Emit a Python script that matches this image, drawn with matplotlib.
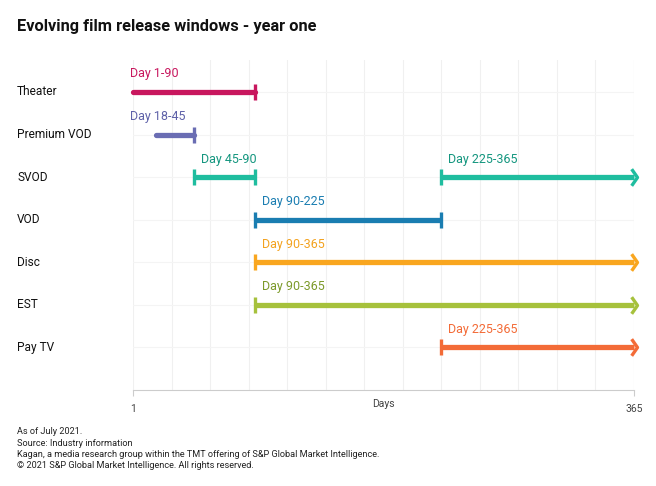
import matplotlib
matplotlib.use("Agg")
import matplotlib.pyplot as plt
from matplotlib.path import Path
from matplotlib.transforms import blended_transform_factory, offset_copy

plt.rcParams['font.family'] = ['Roboto', 'DejaVu Sans']

# Dados do gráfico
canais = ['Theater', 'Premium VOD', 'SVOD', 'SVOD', 'VOD', 'Disc', 'EST', 'Pay TV']
linha = [0, 1, 2, 2, 3, 4, 5, 6]
inicio = [1, 18, 45, 225, 90, 90, 90, 225]
fim = [90, 45, 90, 365, 225, 365, 365, 365]
rotulos = ['Day 1-90', 'Day 18-45', 'Day 45-90', 'Day 225-365', 'Day 90-225',
           'Day 90-365', 'Day 90-365', 'Day 225-365']
nomes_linhas = ['Theater', 'Premium VOD', 'SVOD', 'VOD', 'Disc', 'EST', 'Pay TV']

cores = ['#C8175E', '#6A6DB3', '#1FBD9F', '#1FBD9F', '#1A7DB1', '#F9A61F', '#A6C13C', '#F36B37']
cores_texto = ['#C8175E', '#5E61A8', '#14967F', '#14967F', '#1A7DB1', '#F3A21F', '#7C9A2A', '#F36B37']

fig = plt.figure(figsize=(6.56, 4.86), dpi=100)
ax = fig.add_axes([133 / 656, 96 / 486, 501 / 656, 330 / 486])

ax.set_xlim(1, 365)
ax.set_ylim(7, -0.75)

# grade
for d in range(1, 366, 28):
    ax.axvline(d, color='#F0F0F0', lw=0.8, zorder=0)
ax.axvline(365, color='#F0F0F0', lw=0.8, zorder=0)
for i in range(len(nomes_linhas)):
    ax.axhline(i, color='#F4F4F4', lw=0.8, zorder=0)

seta = Path([(-0.7, 1), (0, 0), (-0.7, -1)], [Path.MOVETO, Path.LINETO, Path.LINETO])

for i in range(len(canais)):
    y = linha[i]
    cor = cores[i]
    redondo = inicio[i] < 30
    ax.plot([inicio[i], fim[i]], [y, y], color=cor, lw=3.8,
            solid_capstyle='round' if redondo else 'butt', zorder=3, clip_on=False)
    if not redondo:
        ax.plot([inicio[i]], [y], marker='|', ms=11, mew=2.4, color=cor, zorder=4, clip_on=False)
    if fim[i] == 365:
        ax.plot([fim[i] + 2], [y], marker=seta, ms=12, mew=2.4, mfc='none', mec=cor,
                zorder=4, clip_on=False)
    else:
        ax.plot([fim[i]], [y], marker='|', ms=11, mew=2.4, color=cor, zorder=4, clip_on=False)
    # rótulo
    if redondo:
        tr = offset_copy(ax.transData, fig=fig, x=-2, y=13, units='points')
        x_txt = 1
    else:
        tr = offset_copy(ax.transData, fig=fig, x=5, y=13, units='points')
        x_txt = inicio[i]
    ax.text(x_txt, y, rotulos[i], transform=tr, color=cores_texto[i], fontsize=9,
            ha='left', va='center')

# nomes das linhas
tr_nome = blended_transform_factory(fig.transFigure, ax.transData)
for i, nome in enumerate(nomes_linhas):
    ax.text(17 / 656, i, nome, transform=tr_nome, fontsize=8.6, ha='left', va='center',
            color='#111111')

# eixos
for lado in ['top', 'right', 'left']:
    ax.spines[lado].set_visible(False)
ax.spines['bottom'].set_color('#CCCCCC')
ax.spines['bottom'].set_linewidth(0.8)
ax.set_yticks([])
ax.set_xticks([1, 365])
ax.set_xticklabels(['1', '365'])
ax.tick_params(axis='x', colors='#CCCCCC', labelcolor='#444444', labelsize=7.5, length=4, pad=6)
ax.text(0.5, -0.042, 'Days', transform=ax.transAxes, ha='center', va='center',
        fontsize=7.5, color='#444444')

fig.text(17 / 656, 1 - 26 / 486, 'Evolving film release windows - year one', fontsize=11.8,
         fontweight='bold', ha='left', va='center', color='#111111')

notas = ['As of July 2021.',
         'Source: Industry information',
         'Kagan, a media research group within the TMT offering of S&P Global Market Intelligence.',
         '\u00a9 2021 S&P Global Market Intelligence. All rights reserved.']
for k, nota in enumerate(notas):
    fig.text(17 / 656, 1 - (432 + 11 * k) / 486, nota, fontsize=6.6, ha='left', va='center',
             color='#222222')

fig.savefig('out.png', dpi=100)
